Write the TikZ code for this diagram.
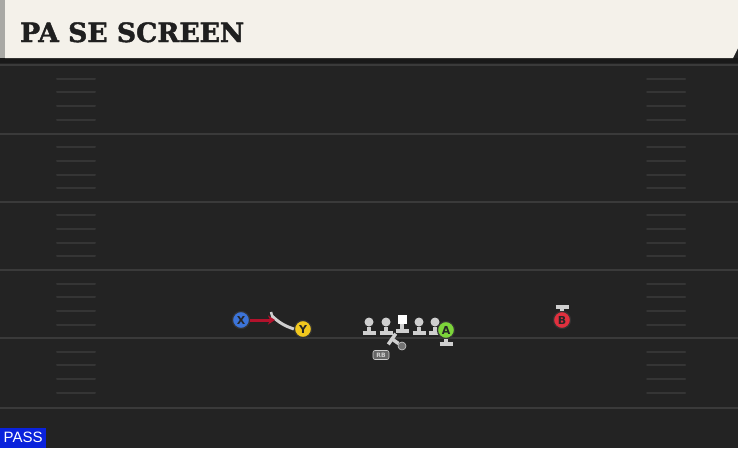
\documentclass[tikz,border=0pt]{standalone}
\usepackage{fontspec}
\setmainfont{DejaVu Sans}
\newfontfamily\titlefont{DejaVu Serif}[BoldFeatures={FakeBold=1.6}]
\newfontfamily\passfont{Liberation Sans}
\usepackage{tikz}
\usetikzlibrary{arrows.meta, calc}

\definecolor{field}{HTML}{232323}
\definecolor{cream}{HTML}{F4F1EA}
\definecolor{stripe}{HTML}{A9A9A5}
\definecolor{yardline}{HTML}{3A3A3A}
\definecolor{hashmark}{HTML}{353535}
\definecolor{blockgray}{HTML}{CFCFCF}
\definecolor{xblue}{HTML}{3C74D8}
\definecolor{yyellow}{HTML}{F2C81E}
\definecolor{agreen}{HTML}{7CD43A}
\definecolor{bred}{HTML}{E0303E}
\definecolor{routered}{HTML}{B3122C}
\definecolor{passblue}{HTML}{0A22DC}

\tikzset{
	player/.style={circle, draw=black!80, line width=1.2pt, minimum size=17pt, inner sep=0pt, font=\bfseries\fontsize{11}{11}\selectfont, text=black!85},
	lineman/.style={circle, fill=blockgray, minimum size=9pt, inner sep=0pt},
	block/.style={blockgray, line width=3.5pt},
}

\begin{document}
\begin{tikzpicture}[x=1pt, y=-1pt]
			\useasboundingbox (0,0) rectangle (738,448);
			\fill[field] (0,0) rectangle (738,448);
			
			% yard lines and hash marks
			\foreach \yl in {65, 133.5, 201.5, 270, 338, 408}
				\draw[yardline, line width=2pt] (0,\yl)--(738,\yl);
			\foreach \yl in {65, 133.5, 201.5, 270, 338}
				\foreach \k in {1,2,3,4} {
					\draw[hashmark, line width=2pt, line cap=round] (57,\yl+\k*13.7)--(95,\yl+\k*13.7);
					\draw[hashmark, line width=2pt, line cap=round] (647,\yl+\k*13.7)--(685,\yl+\k*13.7);
				}
			
			% header
			\fill[black!90] (0,58) rectangle (738,63);
			\fill[cream] (5,0)--(738,0)--(738,48)--(733,58)--(5,58)--cycle;
			\fill[stripe] (0,0) rectangle (5,58);
			\node[anchor=base west, inner sep=0pt, text=black!88, font=\titlefont\bfseries\fontsize{26.6}{26.6}\selectfont] (title) at (20,42) {PA SE SCREEN};
			
			% play tag
			\node[anchor=south west, fill=passblue, text=white, inner sep=0pt, minimum width=46pt, minimum height=20pt, font=\passfont\fontsize{15}{15}\selectfont] (pass) at (0,448) {PASS};
			
			% offensive line
			\foreach \x/\n in {369/lt, 386/lg, 419/rg, 435/rt} {
				\node[lineman] (\n) at (\x,322) {};
				\coordinate (\n b) at (\x,333);
				\draw[block] (\n)--(\n b);
				\draw[block] ($(\n b)+(-6.5,0)$)--($(\n b)+(6.5,0)$);
			}
			\node[fill=white, minimum size=9pt, inner sep=0pt] (c) at (402,319) {};
			\coordinate (cb) at (402,331);
			\draw[block] (c)--(cb);
			\draw[block] ($(cb)+(-6.5,0)$)--($(cb)+(6.5,0)$);
			
			% running back
			\node[circle, fill=black!55, draw=blockgray, line width=0.6pt, minimum size=8pt, inner sep=0pt] (rb) at (402,346) {};
			\coordinate (rbb) at (392,339);
			\draw[block] (rb)--(rbb);
			\draw[block] ($(rbb)!6.5pt!90:(rb)$)--($(rbb)!6.5pt!-90:(rb)$);
			\node[fill=black!60, draw=blockgray, line width=0.6pt, rounded corners=2pt, inner sep=0pt, minimum width=16pt, minimum height=9pt, text=blockgray, font=\bfseries\fontsize{6}{6}\selectfont] (rbtag) at (381,355) {RB};
			
			% receivers
			\node[player, fill=xblue] (x) at (241,320) {X};
			\node[player, fill=yyellow] (y) at (303,329) {Y};
			\node[player, fill=agreen] (a) at (446,330) {A};
			\node[player, fill=bred] (b) at (562,320) {B};
			
			\coordinate (xend) at (275,320);
			\coordinate (yend) at (272,316);
			\draw[blockgray, line width=3pt] (y.west) to[bend left=12] (yend);
			\draw[blockgray, line width=2.5pt] ($(yend)+(-1,-4)$)--($(yend)+(1,3)$);
			\draw[routered, line width=3pt, -{Stealth[length=7pt, width=9pt]}] (x)--(xend);
			
			\coordinate (ab) at (446,344);
			\draw[block] (a)--(ab);
			\draw[block] ($(ab)+(-6.5,0)$)--($(ab)+(6.5,0)$);
			\coordinate (bb) at (562,307);
			\draw[block] (b)--(bb);
			\draw[block] ($(bb)+(-6.5,0)$)--($(bb)+(6.5,0)$);
\end{tikzpicture}
\end{document}
